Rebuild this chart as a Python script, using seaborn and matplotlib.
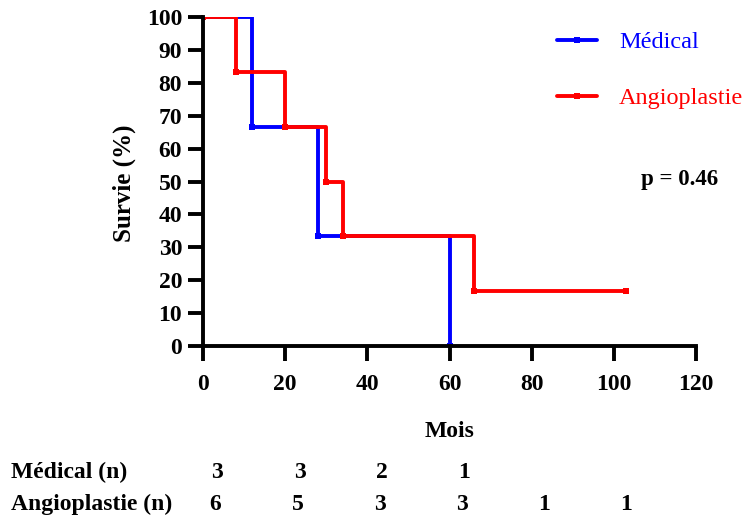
"""Kaplan-Meier survival curves: Médical vs Angioplastie."""

import matplotlib

matplotlib.use("Agg")
import matplotlib.pyplot as plt
import pandas as pd
import seaborn as sns

# Step points (time in months, survival in %)
medical_t = [0, 12, 28, 60]
medical_s = [100, 66.7, 33.3, 0]
angio_t = [0, 8, 20, 30, 34, 66, 103]
angio_s = [100, 83.3, 66.7, 50, 33.3, 16.7, 16.7]

# Number at risk table
risk_times = [0, 20, 40, 60, 80, 100]
medical_n = [3, 3, 2, 1]
angio_n = [6, 5, 3, 3, 1, 1]
p_text = "p = 0.46"

sns.set_style("ticks")
plt.rcParams["font.family"] = ["Liberation Serif", "DejaVu Serif"]
plt.rcParams.update({
    "axes.edgecolor": "black",
    "xtick.color": "black",
    "ytick.color": "black",
    "text.color": "black",
    "axes.labelcolor": "black",
})

df = pd.concat(
    [
        pd.DataFrame({"Mois": medical_t, "Survie": medical_s, "Groupe": "Médical"}),
        pd.DataFrame({"Mois": angio_t, "Survie": angio_s, "Groupe": "Angioplastie"}),
    ],
    ignore_index=True,
)

fig = plt.figure(figsize=(7.52, 5.2), dpi=100)
ax = fig.add_axes([0.270, 0.3346, 0.6555, 0.6327])

sns.lineplot(
    data=df,
    x="Mois",
    y="Survie",
    hue="Groupe",
    palette={"Médical": "#0000ff", "Angioplastie": "#ff0000"},
    estimator=None,
    sort=False,
    drawstyle="steps-post",
    marker="s",
    markersize=4.5,
    markeredgewidth=0,
    linewidth=2.8,
    ax=ax,
    legend=True,
)

ax.set_xlim(0, 120)
ax.set_ylim(0, 100)
ax.set_xticks(range(0, 121, 20))
ax.set_yticks(range(0, 101, 10))
for side in ("top", "right"):
    ax.spines[side].set_visible(False)
for side in ("left", "bottom"):
    ax.spines[side].set_linewidth(2.8)
ax.tick_params(width=2.8, length=11, labelsize=17, direction="out")
ax.tick_params(axis="x", pad=9)
ax.tick_params(axis="y", pad=4)
for lbl in ax.get_xticklabels() + ax.get_yticklabels():
    lbl.set_fontweight("bold")

ax.set_xlabel("Mois", fontsize=17, fontweight="bold", va="center")
ax.set_ylabel("Survie (%)", fontsize=18, fontweight="bold", va="center")
ax.xaxis.set_label_coords(0.501, -0.261)
ax.yaxis.set_label_coords(-0.160, 0.495)

handles, labels = ax.get_legend_handles_labels()
ax.get_legend().remove()
fig.legend(
    handles,
    labels,
    loc="upper left",
    bbox_to_anchor=(557 / 752, 1 - 31 / 520),
    frameon=False,
    fontsize=17.5,
    labelcolor="linecolor",
    handlelength=1.65,
    handletextpad=0.9,
    labelspacing=1.4,
    borderpad=0,
    borderaxespad=0,
)

fig.text(641 / 752, 1 - 179 / 520, p_text, fontsize=16.5, fontweight="bold",
         va="center", ha="left")

# Number-at-risk table below the plot
trans = matplotlib.transforms.blended_transform_factory(ax.transData, fig.transFigure)
row_y = [1 - 472 / 520, 1 - 504 / 520]
fig.text(11 / 752, row_y[0], "Médical (n)", fontsize=17, fontweight="bold", va="center")
fig.text(11 / 752, row_y[1], "Angioplastie (n)", fontsize=17, fontweight="bold", va="center")
for t, n in zip(risk_times, medical_n):
    ax.text(t + 3.5, row_y[0], str(n), transform=trans, fontsize=17,
            fontweight="bold", ha="center", va="center", clip_on=False)
for t, n in zip(risk_times, angio_n):
    ax.text(t + 3, row_y[1], str(n), transform=trans, fontsize=17,
            fontweight="bold", ha="center", va="center", clip_on=False)

fig.savefig("out.png", dpi=100)
plt.close(fig)
